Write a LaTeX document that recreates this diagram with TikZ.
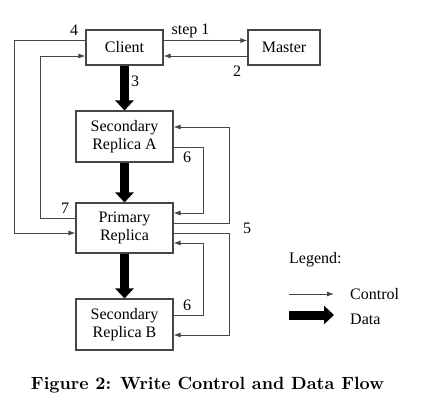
\documentclass[tikz,border=0pt]{standalone}
\usepackage{fontspec}
\usepackage{graphicx}
\newfontfamily\diagfont{Liberation Serif}
\usetikzlibrary{arrows.meta}
\definecolor{G1}{RGB}{70,70,70}

\begin{document}
\begin{tikzpicture}[x=1pt, y=-1pt,
    box/.style={draw=G1, line width=1.1pt, align=center, inner sep=0pt,
                font=\diagfont\fontsize{16}{18.5}\selectfont},
    ctrl/.style={draw=G1, line width=0.9pt, -{Latex[length=7pt,width=5pt]}},
    data/.style={draw=black, line width=9pt, -{Triangle[length=10pt,width=18pt]}},
    lbl/.style={font=\diagfont\fontsize{16}{18.5}\selectfont, inner sep=0pt}]
          \useasboundingbox (0,0) rectangle (443,416);
          \node[box, minimum width=77pt, minimum height=35pt] (client) at (124.5,47.5) {Client};
          \node[box, minimum width=72pt, minimum height=35pt] (master) at (284,47.5) {Master};
          \node[box, minimum width=97pt, minimum height=51pt] (secA) at (124.5,136.5) {Secondary\\Replica A};
          \node[box, minimum width=97pt, minimum height=50pt] (primary) at (124.5,228) {Primary\\Replica};
          \node[box, minimum width=97pt, minimum height=51pt] (secB) at (124.5,324.5) {Secondary\\Replica B};
          % control flow
          \draw[ctrl] ([yshift=7pt]client.east) -- ([yshift=7pt]master.west);
          \draw[ctrl] ([yshift=-8.5pt]master.west) -- ([yshift=-8.5pt]client.east);
          \draw[ctrl] ([yshift=7pt]client.west) -- ++(-71,0) |- ([yshift=-5pt]primary.west);
          \draw[ctrl] ([yshift=10pt]primary.west) -- ++(-35.3,0) |- ([yshift=-8.5pt]client.west);
          \draw[ctrl] ([yshift=5pt]primary.east) -- ++(56,0) |- ([yshift=9.5pt]secA.east);
          \draw[ctrl] ([yshift=-5pt]primary.east) -- ++(56,0) |- ([yshift=-10.5pt]secB.east);
          \draw[ctrl] ([yshift=-10.5pt]secA.east) -- ++(30,0) |- ([yshift=15pt]primary.east);
          \draw[ctrl] ([yshift=9.5pt]secB.east) -- ++(30,0) |- ([yshift=-15pt]primary.east);
          % data flow
          \draw[data] (client.south) -- (secA.north);
          \draw[data] (secA.south) -- (primary.north);
          \draw[data] (primary.south) -- (secB.north);
          % step numbers
          \node[lbl] (s1) at (190.5,30.5) {step 1};
          \node[lbl] (s2) at (237,71) {2};
          \node[lbl] (s3) at (135,81) {3};
          \node[lbl] (s4) at (74,30) {4};
          \node[lbl] (s5) at (247,228) {5};
          \node[lbl] (s6a) at (187,157) {6};
          \node[lbl] (s6b) at (187,305) {6};
          \node[lbl] (s7) at (65,208) {7};
          % legend
          \node[lbl, anchor=west] (legend) at (289,260) {Legend:};
          \coordinate (ctlA) at (289,294); \coordinate (ctlB) at (334,294);
          \coordinate (datA) at (289,315); \coordinate (datB) at (334,315);
          \draw[ctrl] (ctlA) -- (ctlB);
          \draw[data] (datA) -- (datB);
          \node[lbl, anchor=west] (ctltext) at (350,294) {Control};
          \node[lbl, anchor=west] (dattext) at (350,319) {Data};
          % caption
          \node[inner sep=0pt] (caption) at (207.5,385) {\resizebox{353pt}{!}{\bfseries Figure 2: Write Control and Data Flow}};
        \end{tikzpicture}
\end{document}
